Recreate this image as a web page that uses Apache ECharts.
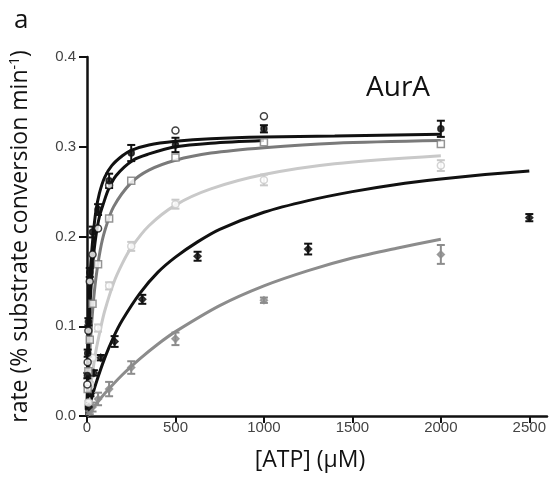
<!DOCTYPE html>
<html><head><meta charset="utf-8">
<script src="https://cdn.jsdelivr.net/npm/echarts@6/dist/echarts.min.js"></script>
<style>html,body{margin:0;padding:0;background:#fff}#c{width:552px;height:477px}</style>
</head><body><div id="c"></div>
<script>
// ---- data ----
const xTicks = [0, 500, 1000, 1500, 2000, 2500];
const yTicks = [0, 0.1, 0.2, 0.3, 0.4];

// fitted curves
const curveA_x = [0, 2, 4, 8, 12, 20, 34, 50, 70, 100, 140, 200, 250, 350, 500, 700, 1000, 1400, 2000];
const curveA_y = [0, 0.03, 0.058, 0.10, 0.13, 0.165, 0.20, 0.228, 0.248, 0.266, 0.279, 0.290, 0.296, 0.302, 0.306, 0.309, 0.311, 0.312, 0.314];
const curveB_x = [0, 2, 4, 8, 15, 25, 35, 50, 70, 95, 120, 165, 260, 350, 500, 700, 1000];
const curveB_y = [0, 0.02, 0.04, 0.072, 0.115, 0.15, 0.175, 0.20, 0.222, 0.238, 0.252, 0.268, 0.285, 0.292, 0.300, 0.304, 0.307];
const curveC_x = [0, 5, 10, 20, 35, 50, 75, 100, 150, 250, 350, 500, 700, 1000, 1400, 2000];
const curveC_y = [0, 0.027, 0.05, 0.086, 0.125, 0.153, 0.185, 0.206, 0.233, 0.26, 0.274, 0.285, 0.293, 0.299, 0.304, 0.307];
const curveD_x = [0, 10, 25, 50, 75, 100, 150, 200, 250, 350, 500, 700, 1000, 1400, 2000];
const curveD_y = [0, 0.0175, 0.04, 0.072, 0.096, 0.117, 0.148, 0.17, 0.1875, 0.212, 0.235, 0.253, 0.269, 0.281, 0.29];
const curveE_x = [0, 25, 50, 100, 150, 200, 300, 400, 500, 625, 750, 1000, 1250, 1500, 1750, 2000, 2250, 2500];
const curveE_y = [0, 0.019, 0.036, 0.0645, 0.088, 0.107, 0.137, 0.16, 0.177, 0.194, 0.208, 0.227, 0.24, 0.25, 0.258, 0.264, 0.269, 0.273];
const curveF_x = [0, 50, 100, 200, 300, 400, 500, 750, 1000, 1250, 1500, 1750, 2000];
const curveF_y = [0, 0.013, 0.025, 0.046, 0.064, 0.08, 0.094, 0.123, 0.145, 0.162, 0.176, 0.187, 0.197];

// measured points
const ptsA_x = [1.95, 3.9, 7.8, 15.6, 31.25, 62.5, 125, 250, 500, 1000, 2000];
const ptsA_y = [0.045, 0.07, 0.105, 0.16, 0.205, 0.230, 0.262, 0.293, 0.302, 0.320, 0.320];
const ptsA_e = [0.003, 0.004, 0.004, 0.005, 0.006, 0.006, 0.008, 0.009, 0.008, 0.004, 0.009];
const ptsB_x = [1.95, 3.9, 7.8, 15.6, 31.25, 62.5, 125, 500, 1000];
const ptsB_y = [0.035, 0.06, 0.095, 0.15, 0.18, 0.209, 0.257, 0.318, 0.334];
const ptsC_x = [3.9, 7.8, 15.6, 31.25, 62.5, 125, 250, 500, 1000, 2000];
const ptsC_y = [0.03, 0.05, 0.085, 0.125, 0.169, 0.220, 0.262, 0.288, 0.305, 0.303];
const ptsD_x = [7.8, 15.6, 31.25, 62.5, 125, 250, 500, 1000, 2000];
const ptsD_y = [0.015, 0.035, 0.065, 0.098, 0.145, 0.189, 0.236, 0.263, 0.279];
const ptsD_e = [0.002, 0.003, 0.003, 0.004, 0.004, 0.005, 0.005, 0.006, 0.006];
const ptsE_x = [9.8, 19.5, 39, 78, 156, 312.5, 625, 1250, 2500];
const ptsE_y = [0.01, 0.025, 0.048, 0.065, 0.083, 0.130, 0.178, 0.186, 0.221];
const ptsE_e = [0.002, 0.003, 0.003, 0.003, 0.006, 0.005, 0.005, 0.006, 0.004];
const ptsF_x = [15.6, 31.25, 62.5, 125, 250, 500, 1000, 2000];
const ptsF_y = [0.005, 0.010, 0.019, 0.030, 0.054, 0.086, 0.129, 0.180];
const ptsF_e = [0.003, 0.005, 0.007, 0.008, 0.007, 0.007, 0.003, 0.0105];

// ---- build chart ----
const zip = (a, b) => a.map((v, i) => [v, b[i]]);
const zip3 = (a, b, c) => a.map((v, i) => [v, b[i], c[i]]);

function curve(xs, ys, color) {
  return { type: 'line', data: zip(xs, ys), showSymbol: false, symbol: 'none', smooth: 0.3,
    lineStyle: { color: color, width: 3 }, z: 2, silent: true };
}
function errBars(xs, ys, es, color) {
  return {
    type: 'custom', z: 3, silent: true,
    data: zip3(xs, ys, es),
    renderItem: function (params, api) {
      const x = api.value(0), y = api.value(1), e = api.value(2);
      const top = api.coord([x, y + e]);
      const bot = api.coord([x, y - e]);
      const w = 4;
      const st = { stroke: color, lineWidth: 2 };
      return { type: 'group', children: [
        { type: 'line', shape: { x1: top[0], y1: top[1], x2: bot[0], y2: bot[1] }, style: st },
        { type: 'line', shape: { x1: top[0] - w, y1: top[1], x2: top[0] + w, y2: top[1] }, style: st },
        { type: 'line', shape: { x1: bot[0] - w, y1: bot[1], x2: bot[0] + w, y2: bot[1] }, style: st }
      ]};
    }
  };
}
function pts(xs, ys, symbol, size, fill, stroke) {
  return { type: 'scatter', data: zip(xs, ys), symbol: symbol, symbolSize: size, z: 4, silent: true,
    itemStyle: { color: fill, borderColor: stroke, borderWidth: 1.5 } };
}

const cBlack = '#111', cDark = '#7a7a7a', cLight = '#c9c9c9', cMid = '#8c8c8c';

const series = [
  curve(curveF_x, curveF_y, cMid),
  curve(curveE_x, curveE_y, cBlack),
  curve(curveD_x, curveD_y, cLight),
  curve(curveC_x, curveC_y, cDark),
  curve(curveB_x, curveB_y, cBlack),
  curve(curveA_x, curveA_y, cBlack),
  errBars(ptsF_x, ptsF_y, ptsF_e, cMid),
  errBars(ptsE_x, ptsE_y, ptsE_e, cBlack),
  errBars(ptsD_x, ptsD_y, ptsD_e, cLight),
  errBars(ptsA_x, ptsA_y, ptsA_e, cBlack),
  pts(ptsF_x, ptsF_y, 'diamond', 7, cMid, cMid),
  pts(ptsE_x, ptsE_y, 'diamond', 7, cBlack, cBlack),
  pts(ptsD_x, ptsD_y, 'circle', 7, '#fff', cLight),
  pts(ptsC_x, ptsC_y, 'rect', 7, '#fff', cDark),
  pts(ptsB_x, ptsB_y, 'circle', 7, '#fff', cBlack),
  pts(ptsA_x, ptsA_y, 'circle', 6, cBlack, cBlack)
];

const chart = echarts.init(document.getElementById('c'), null, { renderer: 'canvas' });
chart.setOption({
  animation: false,
  backgroundColor: '#fff',
  grid: { left: 86, right: 5, top: 57, bottom: 56, containLabel: false },
  xAxis: {
    type: 'value', min: 0, max: 2600, interval: 500,
    name: '[ATP] (\u03bcM)', nameLocation: 'middle', nameGap: 33,
    nameTextStyle: { fontFamily: 'Open Sans', fontSize: 23, color: '#111', padding: [0, 14, 0, 0] },
    axisLine: { show: true, lineStyle: { color: '#111', width: 2.5 } },
    axisTick: { show: true, length: 7, lineStyle: { color: '#111', width: 2 }, customValues: xTicks },
    axisLabel: { fontFamily: 'Liberation Sans', fontSize: 15, color: '#444', margin: 4,
      customValues: xTicks, formatter: v => String(Math.round(v)) },
    splitLine: { show: false }
  },
  yAxis: {
    type: 'value', min: 0, max: 0.4, interval: 0.1,
    name: 'rate (% substrate conversion min{sup|-1})', nameLocation: 'middle', nameGap: 54,
    nameTextStyle: { fontFamily: 'Open Sans', fontSize: 23, color: '#111',
      rich: { sup: { fontFamily: 'Open Sans', fontSize: 14, color: '#111', verticalAlign: 'top', padding: [0, 0, 11, 0] } } },
    axisLine: { show: true, lineStyle: { color: '#111', width: 2.5 } },
    axisTick: { show: true, length: 8, lineStyle: { color: '#111', width: 2 }, customValues: yTicks },
    axisLabel: { fontFamily: 'Liberation Sans', fontSize: 15, color: '#444', margin: 11,
      customValues: yTicks, formatter: v => v.toFixed(1) },
    splitLine: { show: false }
  },
  graphic: [
    { type: 'text', left: 14, top: 8, style: { text: 'a', fontFamily: 'Open Sans', fontSize: 26, fill: '#111' } },
    { type: 'text', left: 366, top: 74, style: { text: 'AurA', fontFamily: 'Open Sans', fontSize: 28, fill: '#111' } }
  ],
  series: series
});
</script>
</body></html>
